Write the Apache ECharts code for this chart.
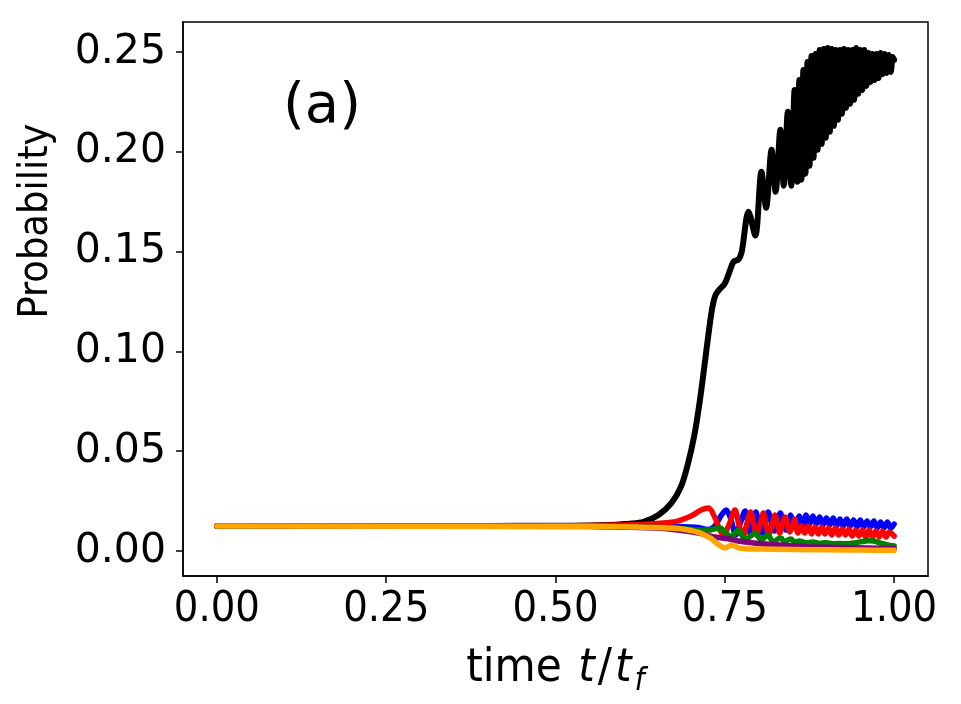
<!doctype html>
<html>
<head>
<meta charset="utf-8">
<title>Probability vs time</title>
<script src="https://cdn.jsdelivr.net/npm/echarts@6/dist/echarts.min.js"></script>
<style>
html,body{margin:0;padding:0;background:#fff;}
#chart{width:961px;height:704px;}
</style>
</head>
<body>
<div id="chart"></div>
<script type="text/javascript">
// tick labels
var xTicks = [0, 0.25, 0.5, 0.75, 1.0];
var yTicks = [0, 0.05, 0.10, 0.15, 0.20, 0.25];

// [t/tf, probability]
var blackPts = [[0,.0125],[0.2,.0125],[0.4,.0126],[0.5,.0127],[0.55,.0128],[0.58,.0131],[0.61,.0137],[0.63,.0146],[0.652,.018],[0.671,.024],[0.685,.032],[0.695,.043],[0.705,.058],[0.713,.075],[0.72,.093],[0.726,.109],[0.731,.121],[0.736,.128],[0.742,.131],[0.75,.134],[0.757,.140],[0.763,.145],[0.77,.146],[0.775,.150],
	[0.785,.170],[0.795,.158],[0.804,.190],[0.811,.172],[0.819,.201],[0.825,.180],[0.832,.211],[0.837,.183],[0.843,.220],[0.848,.183],[0.853,.231],
	// dense oscillation, fills in solid on the plot
	[0.857,.185],[0.86,.236],[0.863,.186],[0.866,.241],[0.869,.189],[0.872,.245],[0.875,.193],[0.878,.248],[0.881,.197],[0.884,.249],[0.887,.201],[0.89,.251],[0.893,.204],[0.896,.2515],[0.899,.207],[0.902,.252],[0.905,.210],[0.908,.2515],[0.911,.213],[0.914,.251],[0.917,.216],[0.92,.251],[0.923,.219],[0.926,.2515],[0.929,.222],[0.932,.251],[0.935,.224],[0.938,.251],[0.941,.226],[0.944,.252],[0.947,.229],[0.95,.251],[0.953,.231],[0.956,.251],[0.959,.233],[0.962,.2495],[0.965,.235],[0.968,.249],[0.971,.236],[0.974,.249],[0.977,.237],[0.98,.2495],[0.983,.239],[0.986,.249],[0.989,.2395],[0.992,.2485],[0.995,.240],[0.998,.2475],[1.0,.246]];

var bluePts = [[0,.0125],[0.5,.0125],[0.6,.0125],[0.65,.0124],[0.69,.0122],[0.71,.0118],[0.725,.0108],[0.735,.0125],[0.744,.0175],[0.752,.0205],[0.759,.016],[0.766,.008],[0.773,.014],[0.78,.020],[0.784,.015],[0.788,.0085],[0.792,.014],[0.796,.0195],[0.8,.014],[0.805,.009],[0.81,.015],[0.814,.0195],[0.819,.014],[0.823,.010],[0.828,.015],[0.832,.019],[0.836,.014],[0.84,.0105],[0.844,.0145],[0.847,.018],[0.851,.014],[0.855,.0115],
	[0.86,.0175],[0.865,.013],[0.87,.018],[0.875,.0135],[0.88,.0175],[0.885,.0135],[0.89,.017],[0.895,.013],[0.9,.0165],[0.905,.013],[0.91,.0165],[0.915,.0125],[0.92,.016],[0.925,.0125],[0.93,.016],[0.935,.0125],[0.94,.0155],[0.945,.012],[0.95,.0155],[0.955,.012],[0.96,.015],[0.965,.012],[0.97,.015],[0.975,.0115],[0.98,.0145],[0.985,.0115],[0.99,.0145],[0.995,.0115],[1.0,.0135]];

var redPts = [[0,.0125],[0.5,.0126],[0.6,.013],[0.65,.0138],[0.68,.015],[0.7,.0175],[0.715,.0205],[0.726,.0215],[0.735,.017],[0.742,.011],[0.748,.008],[0.756,.013],[0.765,.0205],[0.771,.013],[0.777,.0075],[0.782,.013],[0.788,.0195],[0.793,.013],[0.797,.008],[0.802,.0135],[0.807,.019],[0.811,.013],[0.815,.0085],[0.82,.013],[0.824,.018],[0.828,.013],[0.831,.009],[0.835,.013],[0.839,.017],[0.843,.0125],[0.846,.0095],[0.85,.0125],[0.853,.016],
	[0.858,.009],[0.863,.0125],[0.868,.009],[0.873,.0125],[0.878,.0085],[0.883,.012],[0.888,.0085],[0.893,.012],[0.898,.0085],[0.903,.0115],[0.908,.008],[0.913,.0115],[0.918,.008],[0.923,.011],[0.928,.008],[0.933,.011],[0.938,.0075],[0.943,.0105],[0.948,.0075],[0.953,.0105],[0.958,.007],[0.963,.0105],[0.968,.007],[0.973,.010],[0.978,.007],[0.983,.010],[0.988,.007],[0.993,.0095],[1.0,.0075]];

var greenPts = [[0,.0125],[0.55,.0124],[0.62,.0121],[0.66,.0118],[0.69,.0112],[0.71,.0106],[0.726,.0105],[0.736,.0112],[0.743,.0115],[0.752,.009],[0.76,.007],[0.765,.009],[0.77,.0105],[0.775,.008],[0.78,.0055],[0.788,.0075],[0.795,.009],[0.8,.007],[0.804,.0055],[0.809,.007],[0.814,.008],[0.818,.006],[0.822,.0045],[0.828,.006],[0.833,.0065],[0.838,.0045],[0.843,.0055],[0.848,.006],[0.853,.0045],[0.86,.005],[0.87,.0042],[0.88,.0045],[0.89,.0038],[0.9,.0042],[0.91,.0036],[0.92,.0038],[0.93,.0036],[0.94,.004],[0.95,.0046],[0.962,.0052],[0.97,.005],[0.98,.004],[0.99,.003],[1.0,.0025]];

var purplePts = [[0,.0125],[0.55,.0123],[0.62,.0118],[0.66,.0113],[0.681,.0105],[0.711,.009],[0.736,.007],[0.755,.0062],[0.77,.005],[0.78,.0045],[0.8,.0038],[0.83,.003],[0.87,.0022],[0.92,.0018],[0.96,.0015],[1.0,.0013]];

var orangePts = [[0,.0125],[0.55,.0124],[0.62,.012],[0.66,.0117],[0.681,.0113],[0.7,.0103],[0.711,.0093],[0.72,.008],[0.73,.0062],[0.738,.004],[0.745,.0022],[0.751,.0016],[0.756,.0024],[0.76,.003],[0.765,.0025],[0.77,.0016],[0.78,.0012],[0.8,.001],[0.85,.0008],[0.9,.0006],[0.95,.0005],[1.0,.0004]];

var names = ['black', 'blue', 'red', 'green', 'purple', 'orange'];
var colors = ['#000000', '#0000ff', '#ff0000', '#008000', '#800080', '#ffa500'];
var sets = [blackPts, bluePts, redPts, greenPts, purplePts, orangePts];

var chart = echarts.init(document.getElementById('chart'), null, {renderer: 'canvas'});

var series = sets.map(function(d, i){
	return {
		name: names[i],
		type: 'line',
		data: d,
		showSymbol: false,
		smooth: 0.3,
		animation: false,
		z: 2 + i,
		lineStyle: {color: colors[i], width: i == 0 ? 6 : 5.5, cap: 'round', join: 'round'}
	};
});

var option = {
	backgroundColor: '#ffffff',
	animation: false,
	title: {
		text: '(a)',
		left: 278,
		top: 74,
		textStyle: {fontFamily: 'DejaVu Sans', fontSize: 56, fontWeight: 'normal', color: '#000'}
	},
	graphic: [{
		// y axis title sits above the axis centre in the reference
		type: 'text',
		x: 36, y: 221,
		rotation: Math.PI / 2,
		style: {
			text: 'Probability',
			fontFamily: 'DejaVu Sans Condensed', fontSize: 41, fill: '#000',
			align: 'center', verticalAlign: 'middle'
		}
	}],
	grid: {
		left: 183, right: 33, top: 22, bottom: 128,
		show: true, borderColor: '#000', borderWidth: 1.5,
		outerBoundsMode: 'none'
	},
	xAxis: {
		type: 'value',
		min: -0.05, max: 1.05,
		splitLine: {show: false},
		axisLine: {show: true, onZero: false, lineStyle: {color: '#000', width: 1.5}},
		axisTick: {show: true, length: 7, lineStyle: {color: '#000', width: 1.5}, customValues: xTicks},
		axisLabel: {
			customValues: xTicks, margin: 12, color: '#000',
			fontFamily: 'DejaVu Sans Condensed', fontSize: 43,
			formatter: function(v){ return v.toFixed(2); }
		},
		name: '{n|time }{i|t}{n|/}{i|t}{s|f}',
		nameLocation: 'middle',
		nameGap: 64,
		nameTextStyle: {
			rich: {
				n: {fontFamily: 'DejaVu Sans Condensed', fontSize: 47, color: '#000'},
				i: {fontFamily: 'DejaVu Sans Condensed', fontStyle: 'italic', fontSize: 47, color: '#000', padding: [0, 3, 0, 3]},
				s: {fontFamily: 'DejaVu Sans Condensed', fontStyle: 'italic', fontSize: 32, color: '#000', padding: [26, 0, 0, 0]}
			}
		}
	},
	yAxis: {
		type: 'value',
		min: -0.0125, max: 0.265,
		splitLine: {show: false},
		axisLine: {show: true, onZero: false, lineStyle: {color: '#000', width: 1.5}},
		axisTick: {show: true, length: 7, lineStyle: {color: '#000', width: 1.5}, customValues: yTicks},
		axisLabel: {
			customValues: yTicks, margin: 17, color: '#000',
			fontFamily: 'DejaVu Sans', fontSize: 41,
			formatter: function(v){ return v.toFixed(2); }
		}
	},
	series: series
};

chart.setOption(option);
</script>
</body>
</html>
